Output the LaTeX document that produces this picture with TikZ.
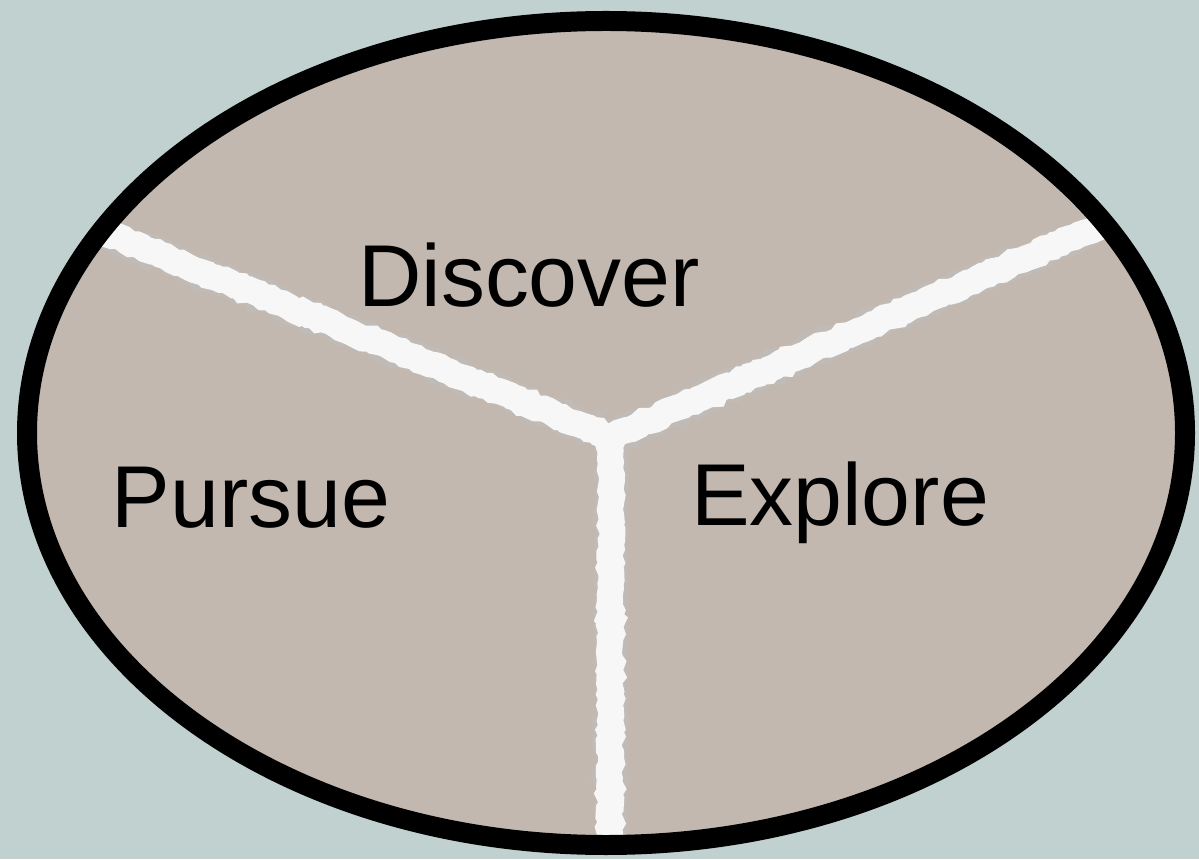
\documentclass[tikz,border=0pt]{standalone}
\usepackage{fontspec}
\setmainfont{Liberation Sans}
\usepackage{tikz}
\usetikzlibrary{positioning,decorations.pathmorphing}
\definecolor{paper}{HTML}{C0D1D0}
\definecolor{clay}{HTML}{C2B8AF}

\begin{document}
\begin{tikzpicture}[x=0.02cm,y=0.02cm,
every node/.style={font=\fontsize{50}{60}\selectfont,inner sep=0pt},
rim/.style={draw=black,line width=4mm,fill=clay},
chalkhalo/.style={draw=black!25,line width=6.2mm,opacity=0.45,decorate,decoration={random steps,segment length=4pt,amplitude=1.5pt}},
chalk/.style={draw=white!97!black,line width=5.2mm,decorate,decoration={random steps,segment length=3pt,amplitude=1pt}}]
\fill[paper] (0,0) rectangle (1199,859);
\useasboundingbox (0,0) rectangle (1199,859);
\fill[clay] (606,426) ellipse [x radius=579,y radius=412];
\coordinate (hub) at (611,422);
\coordinate (lend) at (96,630);
\coordinate (rend) at (1116,640);
\coordinate (bend) at (610,0);
\begin{scope}
\clip (606,426) ellipse [x radius=579,y radius=412];
\foreach \e in {lend,rend,bend} \draw[chalkhalo] (hub)--(\e);
\foreach \e in {lend,rend,bend} \draw[chalk] (hub)--(\e);
\end{scope}
\draw[rim,fill=none] (606,426) ellipse [x radius=579,y radius=412];
\node[anchor=base] (discover) at (529,552) {Discover};
\node[anchor=base] (pursue) at (251,332) {Pursue};
\node[anchor=base] (explore) at (840,334) {Explore};
\end{tikzpicture}
\end{document}
